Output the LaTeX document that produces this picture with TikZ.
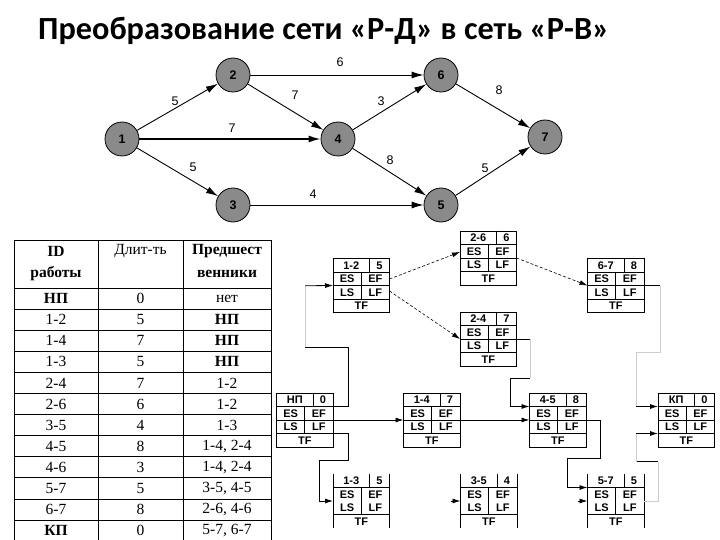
\documentclass[tikz,border=0pt]{standalone}
\usepackage{fontspec}
\setmainfont{Liberation Serif}
\setsansfont{Liberation Sans}
\newfontfamily\titlefont{Carlito}
\usetikzlibrary{arrows.meta,calc}
\definecolor{vgray}{RGB}{138,138,138}
\definecolor{fadegray}{RGB}{205,205,205}
\tikzset{
  vnode/.style={circle, draw=black, line width=0.8pt, fill=vgray, minimum size=34pt, inner sep=0pt, font=\sffamily\bfseries\fontsize{12.5}{12.5}\selectfont},
  varr/.style={-{Latex[length=12pt,width=7pt]}, line width=0.9pt},
  elab/.style={font=\sffamily\fontsize{12.5}{12.5}\selectfont, inner sep=0pt},
  cell/.style={font=\fontsize{15.5}{15.5}\selectfont, inner sep=0pt},
  tline/.style={line width=0.9pt},
  wbox/.style={draw=black, line width=0.8pt, minimum width=56.5pt, minimum height=54pt, inner sep=0pt, outer sep=0pt},
  lbox/.style={draw=none, minimum width=56.5pt, minimum height=54pt, inner sep=0pt, outer sep=0pt},
  bline/.style={line width=0.8pt},
  btxt/.style={font=\sffamily\bfseries\fontsize{11}{11}\selectfont, inner sep=0pt},
  netline/.style={line width=0.8pt},
  fadeline/.style={line width=0.8pt, draw=fadegray},
  netarr/.style={-{Latex[length=8pt,width=5pt]}},
  dashline/.style={line width=0.6pt, densely dashed},
}
\newcommand\upbox[5]{%
  \begin{scope}[shift={(#2,#3)}]
    \node[wbox, anchor=north west] (#1) at (0,0) {};
    \draw[bline] (0,13.5) -- (56.5,13.5) (0,27) -- (56.5,27) (0,40.5) -- (56.5,40.5);
    \draw[bline] (36.5,0) -- (36.5,13.5) (28.25,13.5) -- (28.25,40.5);
    \node[btxt] (#1-id) at (18.25,6.9) {#4};
    \node[btxt] (#1-du) at (46.5,6.9) {#5};
    \node[btxt] (#1-es) at (14.1,20.4) {ES};
    \node[btxt] (#1-ef) at (42.4,20.4) {EF};
    \node[btxt] (#1-ls) at (14.1,33.9) {LS};
    \node[btxt] (#1-lf) at (42.4,33.9) {LF};
    \node[btxt] (#1-tf) at (28.25,47.4) {TF};
  \end{scope}}
\newcommand\lowbox[5]{%
  \begin{scope}[shift={(#2,#3)}]
    \node[lbox, anchor=north west] (#1) at (0,0) {};
    \draw[bline] (0,0) -- (0,54) (56.5,0) -- (56.5,54);
    \draw[bline] (0,13.5) -- (56.5,13.5) (0,40.5) -- (56.5,40.5);
    \draw[bline] (36.5,0) -- (36.5,13.5) (28.25,13.5) -- (28.25,40.5);
    \node[btxt] (#1-id) at (18.25,6.9) {#4};
    \node[btxt] (#1-du) at (46.5,6.9) {#5};
    \node[btxt] (#1-es) at (14.1,21) {ES};
    \node[btxt] (#1-ef) at (42.4,21) {EF};
    \node[btxt] (#1-ls) at (14.1,33.3) {LS};
    \node[btxt] (#1-lf) at (42.4,33.3) {LF};
    \node[btxt] (#1-tf) at (28.25,47.4) {TF};
  \end{scope}}
\begin{document}
\begin{tikzpicture}[x=1pt,y=-1pt]
\useasboundingbox[fill=white] (0,0) rectangle (720,540);
% title
\node[anchor=base west, inner sep=0pt, font=\titlefont\bfseries\fontsize{32.3}{32.3}\selectfont] (title) at (38,40) {Преобразование сети «Р-Д» в сеть «Р-В»};
% top graph
\node[vnode] (n1) at (122,139) {1};
\node[vnode] (n2) at (233,75) {2};
\node[vnode] (n3) at (233,205) {3};
\node[vnode] (n4) at (338,139) {4};
\node[vnode] (n5) at (441,205) {5};
\node[vnode] (n6) at (441,75) {6};
\node[vnode] (n7) at (545,137) {7};
\draw[varr] (n1) -- (n2);
\draw[varr, line width=1.6pt] (n1) -- (n4);
\draw[varr] (n1) -- (n3);
\draw[varr] (n2) -- (n6);
\draw[varr] (n2) -- (n4);
\draw[varr] (n4) -- (n6);
\draw[varr] (n4) -- (n5);
\draw[varr] (n3) -- (n5);
\draw[varr] (n6) -- (n7);
\draw[varr] (n5) -- (n7);
\node[elab] (l26) at (340,62) {6};
\node[elab] (l12) at (175,101) {5};
\node[elab] (l24) at (295,95) {7};
\node[elab] (l46) at (381,101) {3};
\node[elab] (l67) at (499,90) {8};
\node[elab] (l14) at (232,128) {7};
\node[elab] (l13) at (193,167) {5};
\node[elab] (l45) at (390,160) {8};
\node[elab] (l57) at (485,168) {5};
\node[elab] (l35) at (313,194) {4};
% table
\draw[tline] (14,240) -- (271,240);
\draw[tline] (14,288) -- (271,288);
\foreach \k in {1,...,12} {\draw[tline] (14,288+21.1*\k) -- (271,288+21.1*\k);}
\draw[tline] (14,240) -- (14,560) (98,240) -- (98,560) (183,240) -- (183,560) (271,240) -- (271,560);
\node[cell, font=\bfseries\fontsize{15.5}{15.5}\selectfont] (h1a) at (56,251) {ID};
\node[cell, font=\bfseries\fontsize{15.5}{15.5}\selectfont] (h1b) at (56,274) {работы};
\node[cell] (h2) at (140.5,251) {Длит-ть};
\node[cell, font=\bfseries\fontsize{15.5}{15.5}\selectfont] (h3a) at (227,251) {Предшест};
\node[cell, font=\bfseries\fontsize{15.5}{15.5}\selectfont] (h3b) at (227,274) {венники};
\foreach \a/\b/\c [count=\i] in {{\bfseries НП}/0/нет, 1-2/5/{\bfseries НП}, 1-4/7/{\bfseries НП}, 1-3/5/{\bfseries НП}, 2-4/7/1-2, 2-6/6/1-2, 3-5/4/1-3, 4-5/8/{1-4, 2-4}, 4-6/3/{1-4, 2-4}, 5-7/5/{3-5, 4-5}, 6-7/8/{2-6, 4-6}, {\bfseries КП}/0/{5-7, 6-7}} {
  \node[cell] (r\i a) at (56,277.45+21.1*\i) {\a};
  \node[cell] (r\i b) at (140.5,277.45+21.1*\i) {\b};
  \node[cell] (r\i c) at (227,277.45+21.1*\i) {\c};
}
% network boxes
\upbox{b26}{460}{231}{2-6}{6}
\upbox{b12}{333}{258.5}{1-2}{5}
\upbox{b67}{587.5}{258.5}{6-7}{8}
\upbox{b24}{460}{312}{2-4}{7}
\upbox{bNP}{276.5}{393}{НП}{0}
\upbox{b14}{403.5}{393}{1-4}{7}
\upbox{b45}{529.5}{393}{4-5}{8}
\upbox{bKP}{658}{393}{КП}{0}
\lowbox{b13}{333}{474}{1-3}{5}
\lowbox{b35}{460.5}{474}{3-5}{4}
\lowbox{b57}{587.5}{474}{5-7}{5}
% connectors
% NP -> 1-2
\coordinate (p1a) at (348,406.5);
\coordinate (p1b) at (348,347);
\coordinate (p1c) at (305,347);
\coordinate (p1d) at (305,285.75);
\draw[netline] ($(bNP.north east)+(0,13.5)$) -- (p1a) -- (p1b) -- (p1c);
\draw[fadeline] (p1c) -- (p1d);
\draw[netline, netarr] (p1d) -- (b12.west);
% NP -> 1-4
\draw[netline, netarr] (bNP.east) -- (b14.west);
% NP -> 1-3
\coordinate (p2a) at (348,433.5);
\coordinate (p2b) at (348,460.5);
\coordinate (p2c) at (319,460.5);
\coordinate (p2d) at (319,501);
\draw[netline, netarr] ($(bNP.north east)+(0,40.5)$) -- (p2a) -- (p2b) -- (p2c) -- (p2d) -- (b13.west);
% 1-2 -> 2-6, 1-2 -> 2-4 (dashed)
\draw[dashline, netarr] ($(b12.north east)+(0,20.5)$) -- ($(b26.north west)+(0,21)$);
\draw[dashline, netarr] ($(b12.north east)+(0,32.5)$) -- (b24.west);
% 2-6 -> 6-7
\draw[dashline, netarr] (b26.east) -- (b67.west);
% 2-4 -> 4-5
\coordinate (p3a) at (530,339);
\coordinate (p3b) at (530,378);
\coordinate (p3c) at (510,378);
\coordinate (p3d) at (510,406.5);
\draw[netline] (b24.east) -- (p3a);
\draw[fadeline] (p3a) -- (p3b);
\draw[netline, netarr] (p3b) -- (p3c) -- (p3d) -- ($(b45.north west)+(0,13.5)$);
% 1-4 -> 4-5
\draw[netline, netarr] (b14.east) -- (b45.west);
% 4-5 -> 5-7
\coordinate (p4a) at (600,420);
\coordinate (p4b) at (600,458);
\coordinate (p4c) at (567,458);
\coordinate (p4d) at (567,487.5);
\draw[netline, netarr] (b45.east) -- (p4a) -- (p4b) -- (p4c) -- (p4d) -- ($(b57.north west)+(0,13.5)$);
% 1-3 -> 3-5 and 3-5 -> 5-7 (only the heads are visible)
\coordinate (s35) at ($(b35.west)+(-10,0)$);
\draw[netline, netarr] (s35) -- (b35.west);
\coordinate (s57) at ($(b57.west)+(-10,0)$);
\draw[netline, netarr] (s57) -- (b57.west);
% 6-7 -> KP
\coordinate (p5a) at (660,285.5);
\coordinate (p5b) at (660,352);
\coordinate (p5c) at (636,352);
\coordinate (p5d) at (636,406.5);
\draw[netline] (b67.east) -- (p5a);
\draw[fadeline] (p5a) -- (p5b) -- (p5c) -- (p5d);
\draw[netline, netarr] (p5d) -- ($(bKP.north west)+(0,13.5)$);
% 5-7 -> KP
\coordinate (p6a) at (658,501);
\coordinate (p6b) at (658,461.5);
\coordinate (p6c) at (636,461.5);
\coordinate (p6d) at (636,433.5);
\draw[fadeline] (b57.east) -- (p6a) -- (p6b);
\draw[netline] (p6b) -- (p6c);
\draw[fadeline] (p6c) -- (p6d);
\draw[netline, netarr] (p6d) -- ($(bKP.north west)+(0,40.5)$);
\end{tikzpicture}
\end{document}
